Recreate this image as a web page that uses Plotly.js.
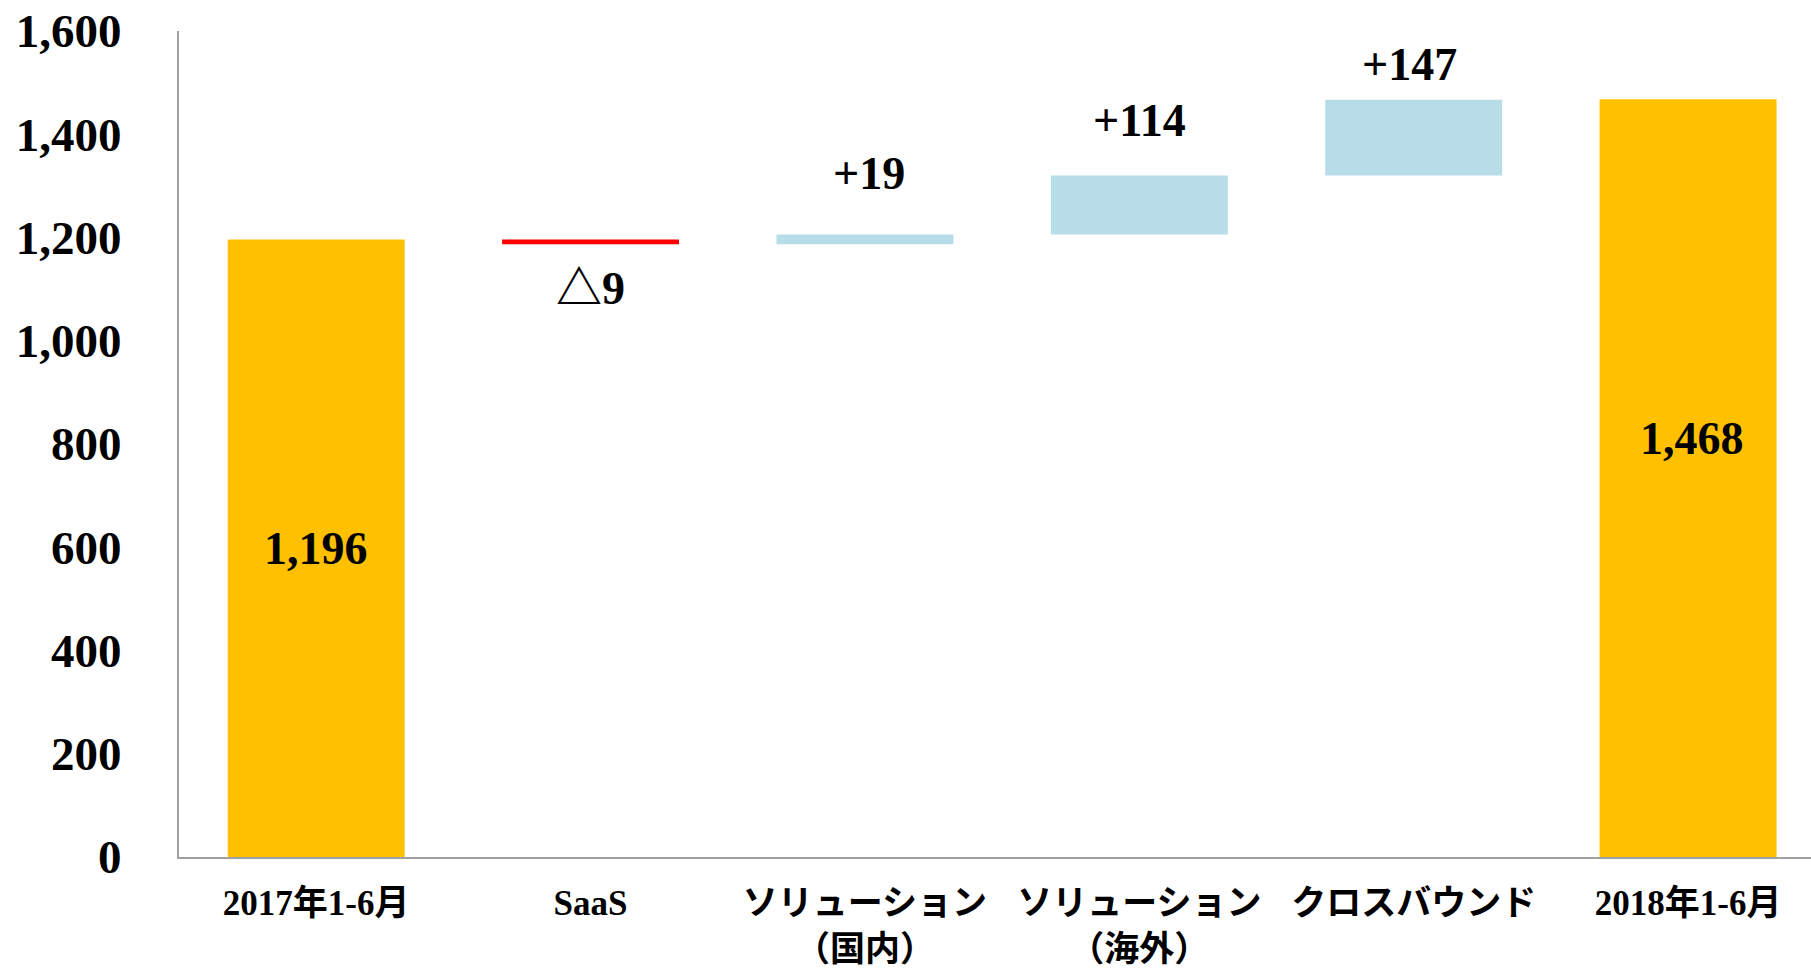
<!DOCTYPE html>
<html>
<head>
<meta charset="utf-8">
<script src="https://cdn.plot.ly/plotly-3.0.1.min.js"></script>
<style>html,body{margin:0;padding:0;background:#fff;}#chart{width:1811px;height:970px;}</style>
</head>
<body>
<div id="chart"></div>
<script>
var categories = ['2017年1-6月', 'SaaS', 'ソリューション<br>（国内）', 'ソリューション<br>（海外）', 'クロスバウンド', '2018年1-6月'];
var measures = ['absolute', 'relative', 'relative', 'relative', 'relative', 'absolute'];
var values = [1196, -9, 19, 114, 147, 1468];
var labels = ['1,196', '△9', '+19', '+114', '+147', '1,468'];
var yTicks = [0, 200, 400, 600, 800, 1000, 1200, 1400, 1600];

var FONT = "'Liberation Serif', 'Times New Roman', 'Noto Sans CJK JP', serif";

// compute bar extents from data for label placement
var running = 0, tops = [], bottoms = [];
for (var i = 0; i < values.length; i++) {
  if (measures[i] === 'absolute') { bottoms.push(0); running = values[i]; tops.push(running); }
  else { var prev = running; running += values[i]; tops.push(Math.max(prev, running)); bottoms.push(Math.min(prev, running)); }
}

// label placement styles: anchor ('mid','top','bottom') and pixel shift
var labelAnchor = ['mid', 'bottom', 'top', 'top', 'top', 'mid'];
var labelShift = [0, -44, 61, 55, 35, 40];
var labelXShift = [0, 0, 4, 0, -4, 4];

var annotations = labels.map(function (t, i) {
  var y = labelAnchor[i] === 'mid' ? (tops[i] + bottoms[i]) / 2 : (labelAnchor[i] === 'top' ? tops[i] : bottoms[i]);
  return {
    x: categories[i], y: y, xref: 'x', yref: 'y', text: t, showarrow: false,
    yanchor: 'middle', xanchor: 'center', yshift: labelShift[i], xshift: labelXShift[i],
    font: {family: FONT, size: 46, color: '#000', weight: 'bold'}
  };
});

var trace = {
  type: 'waterfall',
  x: categories,
  y: values,
  measure: measures,
  textinfo: 'none',
  hoverinfo: 'skip',
  connector: {visible: false},
  increasing: {marker: {color: '#B7DEE8'}},
  decreasing: {marker: {color: '#FF0000'}},
  totals: {marker: {color: '#FFC000'}}
};

var layout = {
  width: 1811, height: 970,
  margin: {l: 179, r: 0, t: 31, b: 113},
  paper_bgcolor: '#fff', plot_bgcolor: '#fff',
  showlegend: false,
  waterfallgap: 0.355,
  font: {family: FONT, color: '#000'},
  xaxis: {
    type: 'category',
    range: [-0.5, 5.448],
    showline: true, linecolor: '#A0A0A0', linewidth: 2,
    ticks: '', showgrid: false, zeroline: false,
    ticklabelstandoff: 14,
    tickfont: {family: FONT, size: 35, color: '#000', weight: 'bold'}
  },
  yaxis: {
    range: [0, 1600],
    tickvals: yTicks,
    ticktext: yTicks.map(function (v) { return v.toLocaleString('en-US'); }),
    showline: true, linecolor: '#A0A0A0', linewidth: 2,
    ticks: '', showgrid: false, zeroline: false,
    ticklabelstandoff: 46,
    tickfont: {family: FONT, size: 47, color: '#000', weight: 'bold'}
  },
  annotations: annotations
};

Plotly.newPlot('chart', [trace], layout, {displayModeBar: false, staticPlot: true});
</script>
</body>
</html>
